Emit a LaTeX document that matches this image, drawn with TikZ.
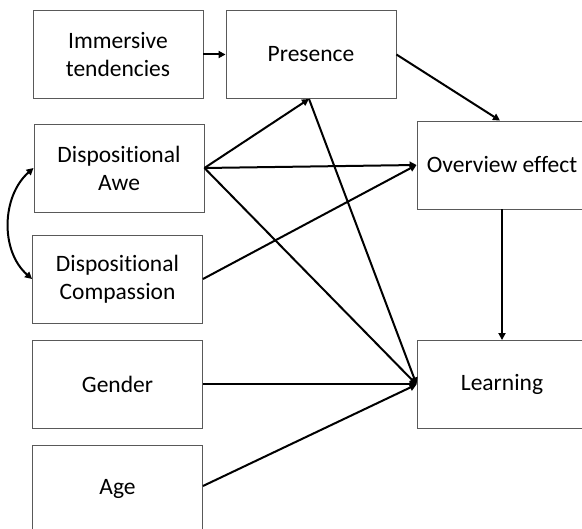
\documentclass[tikz,border=0pt]{standalone}
\usepackage{fontspec}
\setmainfont[RawFeature=-liga]{Carlito}
\usetikzlibrary{arrows.meta}
\begin{document}
\begin{tikzpicture}[x=1pt,y=-1pt,
  box/.style={draw=black!65,line width=0.9pt,minimum width=170pt,minimum height=88pt,
    align=center,font=\fontsize{23.5}{28}\selectfont,inner sep=0pt},
  arr/.style={line width=2pt,-{Triangle[length=7pt,width=7pt]}},
  darr/.style={line width=2pt,{Triangle[length=7pt,width=7pt]}-{Triangle[length=7pt,width=7pt]}}]
\useasboundingbox (0,0) rectangle (582,529);
\clip (0,0) rectangle (582,529);
\fill[white] (0,0) rectangle (582,529);
\node[box] (imm) at (118,54.5) {Immersive\\tendencies};
\node[box] (pres) at (311,54.5) {Presence};
\node[box] (awe) at (119,168) {Dispositional\\Awe};
\node[box] (comp) at (117.5,279) {Dispositional\\Compassion};
\node[box] (gen) at (117.5,384.5) {Gender};
\node[box] (age) at (117.5,489) {Age};
\node[box] (ov) at (502,165) {Overview effect};
\node[box] (lrn) at (502,384.5) {Learning};
\coordinate (presS) at ([xshift=-2pt]pres.south);
\coordinate (ovN) at ([xshift=-2pt]ov.north);
\draw[arr] (imm) -- (pres);
\draw[arr] (pres.east) -- (ovN);
\draw[arr] (awe.east) -- (presS);
\draw[arr] (presS) -- (lrn.west);
\draw[arr] (awe.east) -- (ov.west);
\draw[arr] (awe.east) -- (lrn.west);
\draw[arr] (comp.east) -- (ov.west);
\draw[arr] (gen.east) -- (lrn.west);
\draw[arr] ([yshift=3pt]age.east) -- (lrn.west);
\draw[arr] (ov.south) -- (lrn.north);
\draw[darr] (awe.west) .. controls +(-32,28) and +(-32,-28) .. (comp.west);
\end{tikzpicture}
\end{document}
